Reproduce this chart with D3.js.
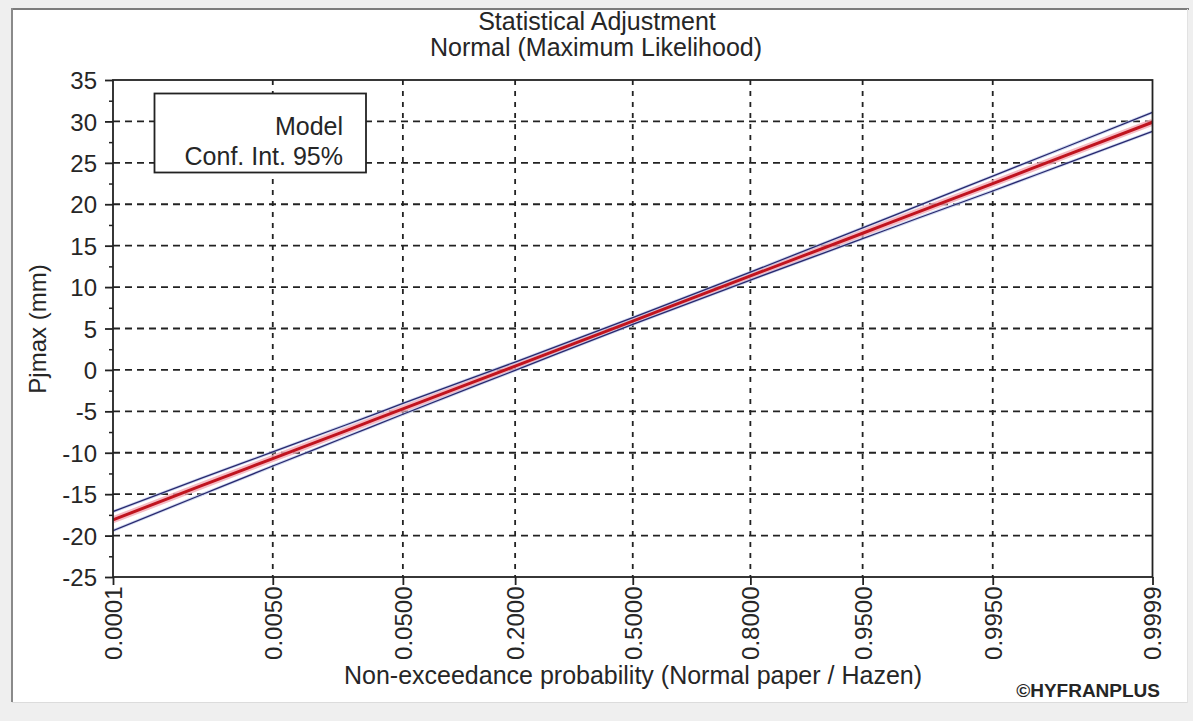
<!DOCTYPE html>
<html>
<head>
<meta charset="utf-8">
<script src="https://cdn.jsdelivr.net/npm/d3@7"></script>
<style>
  html, body { margin: 0; padding: 0; background: #efefef; }
  svg { display: block; }
  text { font-family: "Liberation Sans", Arial, sans-serif; fill: #262626; }
</style>
</head>
<body>
<svg id="chart" width="1193" height="721"></svg>
<script>
// Axis ticks
const yTicks = [-25, -20, -15, -10, -5, 0, 5, 10, 15, 20, 25, 30, 35];
const yMinorTicks = [-22.5, -17.5, -12.5, -7.5, -2.5, 2.5, 7.5, 12.5, 17.5, 22.5, 27.5, 32.5];
const tickProbs = [0.0001, 0.005, 0.05, 0.2, 0.5, 0.8, 0.95, 0.995, 0.9999];
const tickLabels = ["0.0001", "0.0050", "0.0500", "0.2000", "0.5000", "0.8000", "0.9500", "0.9950", "0.9999"];

// Fitted normal quantiles (mm) and 95% confidence bounds at these probabilities
const curveProbs  = [0.0001, 0.001, 0.005, 0.02, 0.05, 0.2, 0.5, 0.8, 0.95, 0.98, 0.995, 0.999, 0.9999];
const modelValues = [-18.1, -14.0, -10.7, -7.35, -4.7, 0.45, 5.9, 11.35, 16.5, 19.15, 22.5, 25.85, 29.9];
const upperValues = [-17.1, -13.1, -9.9, -6.65, -4.05, 0.95, 6.3, 11.8, 17.15, 19.9, 23.4, 26.85, 31.1];
const lowerValues = [-19.4, -15.1, -11.6, -8.1, -5.35, -0.05, 5.5, 10.85, 15.85, 18.4, 21.6, 24.85, 28.8];

// Inverse standard normal CDF (Acklam's rational approximation) for normal probability paper
function qnorm(p) {
  const a = [-3.969683028665376e+01, 2.209460984245205e+02, -2.759285104469687e+02, 1.383577518672690e+02, -3.066479806614716e+01, 2.506628277459239e+00];
  const b = [-5.447609879822406e+01, 1.615858368580409e+02, -1.556989798598866e+02, 6.680131188771972e+01, -1.328068155288572e+01];
  const c = [-7.784894002430293e-03, -3.223964580411365e-01, -2.400758277161838e+00, -2.549732539343734e+00, 4.374664141464968e+00, 2.938163982698783e+00];
  const d = [7.784695709041462e-03, 3.224671290700398e-01, 2.445134137142996e+00, 3.754408661907416e+00];
  const plow = 0.02425, phigh = 1 - plow;
  let q, r;
  if (p < plow) {
    q = Math.sqrt(-2 * Math.log(p));
    return (((((c[0]*q+c[1])*q+c[2])*q+c[3])*q+c[4])*q+c[5]) / ((((d[0]*q+d[1])*q+d[2])*q+d[3])*q+1);
  }
  if (p > phigh) {
    q = Math.sqrt(-2 * Math.log(1 - p));
    return -(((((c[0]*q+c[1])*q+c[2])*q+c[3])*q+c[4])*q+c[5]) / ((((d[0]*q+d[1])*q+d[2])*q+d[3])*q+1);
  }
  q = p - 0.5; r = q * q;
  return (((((a[0]*r+a[1])*r+a[2])*r+a[3])*r+a[4])*r+a[5])*q / (((((b[0]*r+b[1])*r+b[2])*r+b[3])*r+b[4])*r+1);
}

const svg = d3.select("#chart");
const W = 1193, H = 721;
const plot = { left: 113, right: 1152.5, top: 80, bottom: 577 };
const ink = "#222222";

// Window panel (sunken frame)
svg.append("rect").attr("x", 0).attr("y", 0).attr("width", W).attr("height", H).attr("fill", "#efefef");
svg.append("rect").attr("x", 12).attr("y", 9).attr("width", 1176).attr("height", 693).attr("fill", "#ffffff");
svg.append("line").attr("x1", 11).attr("x2", 1189).attr("y1", 9).attr("y2", 9).attr("stroke", "#7c7c7c").attr("stroke-width", 2);
svg.append("line").attr("x1", 12).attr("x2", 12).attr("y1", 8).attr("y2", 702).attr("stroke", "#8a8a8a").attr("stroke-width", 2);
svg.append("line").attr("x1", 12).attr("x2", 1188).attr("y1", 702.5).attr("y2", 702.5).attr("stroke", "#dcdcdc").attr("stroke-width", 1);
svg.append("line").attr("x1", 1187.5).attr("x2", 1187.5).attr("y1", 9).attr("y2", 703).attr("stroke", "#e2e2e2").attr("stroke-width", 1);

// Scales: x is linear in the standard normal variate
const x = d3.scaleLinear().domain([qnorm(0.0001), qnorm(0.9999)]).range([plot.left, plot.right]);
const y = d3.scaleLinear().domain([-25, 35]).range([plot.bottom, plot.top]);

// Grid
const grid = svg.append("g");
grid.selectAll("line.h").data(yTicks.filter(v => v > -25 && v < 35)).join("line")
  .attr("x1", plot.left).attr("x2", plot.right)
  .attr("y1", d => y(d)).attr("y2", d => y(d))
  .attr("stroke", ink).attr("stroke-width", 1.8).attr("stroke-dasharray", "7,5");
grid.selectAll("line.v").data(tickProbs.slice(1, -1)).join("line")
  .attr("x1", d => x(qnorm(d))).attr("x2", d => x(qnorm(d)))
  .attr("y1", plot.top).attr("y2", plot.bottom)
  .attr("stroke", ink).attr("stroke-width", 1.8).attr("stroke-dasharray", "5,6");

// Curves
svg.append("defs").append("clipPath").attr("id", "clip")
  .append("rect").attr("x", plot.left).attr("y", plot.top)
  .attr("width", plot.right - plot.left).attr("height", plot.bottom - plot.top);
const line = d3.line().x(d => x(qnorm(d[0]))).y(d => y(d[1])).curve(d3.curveMonotoneX);
const series = arr => curveProbs.map((p, i) => [p, arr[i]]);
const curves = svg.append("g").attr("clip-path", "url(#clip)");

curves.append("path").attr("d", line(series(modelValues)))
  .attr("fill", "none").attr("stroke", "#f3a9b4").attr("stroke-width", 7).attr("stroke-opacity", 0.8);
[upperValues, lowerValues].forEach(v => {
  curves.append("path").attr("d", line(series(v)))
    .attr("fill", "none").attr("stroke", "#b9c6e8").attr("stroke-width", 3).attr("stroke-opacity", 0.7);
});
curves.append("path").attr("d", line(series(modelValues)))
  .attr("fill", "none").attr("stroke", "#c0141f").attr("stroke-width", 3);
[upperValues, lowerValues].forEach(v => {
  curves.append("path").attr("d", line(series(v)))
    .attr("fill", "none").attr("stroke", "#28286e").attr("stroke-width", 1.3);
});

// Plot frame
svg.append("rect").attr("x", plot.left).attr("y", plot.top)
  .attr("width", plot.right - plot.left).attr("height", plot.bottom - plot.top)
  .attr("fill", "none").attr("stroke", ink).attr("stroke-width", 1.8);

// Y axis
const yAxis = svg.append("g").attr("transform", `translate(${plot.left},0)`)
  .call(d3.axisLeft(y).tickValues(yTicks).tickSize(8).tickPadding(8).tickFormat(d => String(d)));
yAxis.select(".domain").remove();
yAxis.selectAll("line").attr("stroke", ink).attr("stroke-width", 1.8);
yAxis.selectAll("text").style("font-size", "24px").attr("fill", "#262626").attr("dy", "0.36em");

const yMinor = svg.append("g").attr("transform", `translate(${plot.left},0)`)
  .call(d3.axisLeft(y).tickValues(yMinorTicks).tickSize(4).tickFormat(""));
yMinor.select(".domain").remove();
yMinor.selectAll("line").attr("stroke", ink).attr("stroke-width", 1.5);

// X axis (normal probability paper)
const xAxis = svg.append("g").attr("transform", `translate(0,${plot.bottom})`)
  .call(d3.axisBottom(x).tickValues(tickProbs.map(qnorm)).tickSize(8).tickFormat((d, i) => tickLabels[i]));
xAxis.select(".domain").remove();
xAxis.selectAll("line").attr("stroke", ink).attr("stroke-width", 1.8);
xAxis.selectAll("text")
  .style("font-size", "24px").attr("fill", "#262626")
  .attr("transform", "rotate(-90)")
  .attr("x", -9.5).attr("y", 0).attr("dy", "0.35em")
  .style("text-anchor", "end");

// Titles
svg.append("text").attr("x", 597).attr("y", 29.5).attr("text-anchor", "middle")
  .style("font-size", "25px").text("Statistical Adjustment");
svg.append("text").attr("x", 596).attr("y", 56).attr("text-anchor", "middle")
  .style("font-size", "25px").text("Normal (Maximum Likelihood)");

svg.append("text").attr("transform", "translate(46,329) rotate(-90)").attr("text-anchor", "middle")
  .style("font-size", "24px").text("Pjmax (mm)");

svg.append("text").attr("x", 633).attr("y", 684).attr("text-anchor", "middle")
  .style("font-size", "25px").text("Non-exceedance probability (Normal paper / Hazen)");

svg.append("text").attr("x", 1160).attr("y", 697).attr("text-anchor", "end")
  .style("font-size", "19px").style("font-weight", "bold").attr("fill", "#202020").text("©HYFRANPLUS");

// Legend box
const legend = svg.append("g");
legend.append("rect").attr("x", 154.5).attr("y", 93.5).attr("width", 211.5).attr("height", 79)
  .attr("fill", "#ffffff").attr("stroke", ink).attr("stroke-width", 1.8);
legend.append("text").attr("x", 343).attr("y", 135).attr("text-anchor", "end")
  .style("font-size", "25px").text("Model");
legend.append("text").attr("x", 343).attr("y", 165).attr("text-anchor", "end")
  .style("font-size", "25px").text("Conf. Int. 95%");
</script>
</body>
</html>
